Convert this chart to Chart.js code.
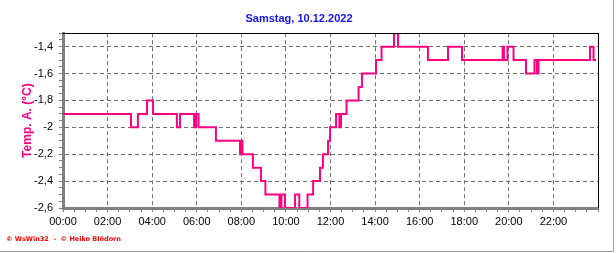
<!DOCTYPE html>
<html>
<head>
<meta charset="utf-8">
<title>Temp. A. - Samstag, 10.12.2022</title>
<script src="https://cdn.jsdelivr.net/npm/chart.js@4.4.1/dist/chart.umd.min.js"></script>
<style>
  html, body { margin: 0; padding: 0; background: #ffffff; }
  canvas { display: block; }
</style>
</head>
<body>
<canvas id="chart" width="616" height="253"></canvas>
<script>
// Outside temperature, 10.12.2022 - time (hours) at which the reading changes, and the new value
const changeHours = [
  0, 3.05, 3.36, 3.77, 4.04, 5.11, 5.25, 5.88, 5.97, 6.08,
  6.86, 7.94, 7.99, 8.05, 8.52, 8.88, 9.08, 9.71, 9.80, 9.96,
  10.41, 10.60, 10.97, 11.22, 11.53, 11.66, 11.89, 11.98, 12.25, 12.40,
  12.47, 12.72, 13.26, 13.41, 14.04, 14.29, 14.85, 15.03, 16.37, 17.27,
  17.90, 19.72, 19.78, 19.94, 20.21, 20.77, 21.15, 21.26, 21.33, 23.64,
  23.80, 23.91
];
const temps = [
  -1.9, -2.0, -1.9, -1.8, -1.9, -2.0, -1.9, -2.0, -1.9, -2.0,
  -2.1, -2.2, -2.1, -2.2, -2.3, -2.4, -2.5, -2.6, -2.5, -2.6,
  -2.5, -2.6, -2.5, -2.4, -2.3, -2.2, -2.1, -2.0, -1.9, -2.0,
  -1.9, -1.8, -1.7, -1.6, -1.5, -1.4, -1.3, -1.4, -1.5, -1.4,
  -1.5, -1.4, -1.5, -1.4, -1.5, -1.6, -1.5, -1.6, -1.5, -1.4,
  -1.5, -1.5
];

// Axis settings
const yMin = -2.6, yMax = -1.3, yMinorStep = 0.05, yMajorStep = 0.2;
const xMin = 0, xMax = 24, xMinorStep = 0.5, xMajorStep = 2;

const titleText = 'Samstag, 10.12.2022';
const yTitle = 'Temp. A. (°C)';
const footerText = '© WsWin32  -  © Heiko Blödorn';

const LINE_COLOR = '#ff0080';
const GRID_COLOR = '#707070';

const isMajorY = v => {
  const k = (v - yMin) / yMajorStep;
  return Math.abs(k - Math.round(k)) < 1e-6 && v < yMax - 0.01;
};
const isMajorX = v => Math.abs(v / xMajorStep - Math.round(v / xMajorStep)) < 1e-6;

// Draws the black top/right frame of the plot, the footer and the outer frame
const framePlugin = {
  id: 'frame',
  afterDatasetsDraw(chart) {
    const { ctx, chartArea: a } = chart;
    ctx.save();
    ctx.strokeStyle = '#000000';
    ctx.lineWidth = 1;
    ctx.beginPath();
    ctx.moveTo(a.left, Math.round(a.top) + 0.5);
    ctx.lineTo(Math.round(a.right) + 0.5, Math.round(a.top) + 0.5);
    ctx.lineTo(Math.round(a.right) + 0.5, a.bottom);
    ctx.stroke();
    ctx.restore();
  },
  afterDraw(chart) {
    const { ctx, width, height } = chart;
    ctx.save();
    ctx.fillStyle = '#ff0000';
    ctx.font = 'bold 6.5px "DejaVu Sans", sans-serif';
    ctx.textBaseline = 'middle';
    ctx.fillText(footerText, 6, 239);
    ctx.strokeStyle = '#a0a0a0';
    ctx.lineWidth = 1;
    ctx.beginPath();
    ctx.moveTo(width - 2.5, 0);
    ctx.lineTo(width - 2.5, height - 1.5);
    ctx.lineTo(0, height - 1.5);
    ctx.stroke();
    ctx.restore();
  }
};

new Chart(document.getElementById('chart'), {
  type: 'line',
  data: {
    datasets: [{
      label: yTitle,
      data: changeHours.map((h, i) => ({ x: h, y: temps[i] })),
      borderColor: LINE_COLOR,
      borderWidth: 2,
      pointRadius: 0,
      stepped: 'before',
      fill: false
    }]
  },
  options: {
    responsive: false,
    animation: false,
    devicePixelRatio: 1,
    layout: { padding: { left: 0, right: 18, top: 0, bottom: 0 } },
    plugins: {
      legend: { display: false },
      tooltip: { enabled: false },
      title: {
        display: true,
        text: titleText,
        color: '#1414f0',
        font: { family: 'Arial, "Liberation Sans", sans-serif', size: 11, weight: 'bold' },
        padding: { top: 12, bottom: 8 }
      }
    },
    scales: {
      x: {
        type: 'linear',
        min: xMin,
        max: xMax,
        afterFit: scale => { scale.height = 45; },
        ticks: {
          stepSize: xMinorStep,
          autoSkip: false,
          maxRotation: 0,
          minRotation: 0,
          padding: 3,
          color: '#000000',
          font: { family: 'Arial, "Liberation Sans", sans-serif', size: 11 },
          callback: v => (isMajorX(v) && v < xMax) ? String(v).padStart(2, '0') + ':00' : ''
        },
        grid: {
          color: c => (c.tick && isMajorX(c.tick.value)) ? GRID_COLOR : 'rgba(0,0,0,0)',
          tickColor: '#808080',
          tickLength: 4,
          lineWidth: 1
        },
        border: { display: true, color: '#808080', width: 3, dash: [4, 3] }
      },
      y: {
        type: 'linear',
        min: yMin,
        max: yMax,
        afterFit: scale => { scale.width = 63; },
        title: {
          display: true,
          text: yTitle,
          color: LINE_COLOR,
          font: { family: 'Arial, "Liberation Sans", sans-serif', size: 12, weight: 'bold' },
          padding: { top: 20, bottom: 0 }
        },
        ticks: {
          stepSize: yMinorStep,
          autoSkip: false,
          padding: 6,
          color: '#000000',
          font: { family: 'Arial, "Liberation Sans", sans-serif', size: 11 },
          callback: v => isMajorY(v) ? String(Math.round(v * 10) / 10).replace('.', ',') : ''
        },
        grid: {
          color: c => (c.tick && isMajorY(c.tick.value)) ? GRID_COLOR : 'rgba(0,0,0,0)',
          tickColor: '#808080',
          tickLength: 4,
          lineWidth: 1
        },
        border: { display: true, color: '#808080', width: 3, dash: [4, 3] }
      }
    }
  },
  plugins: [framePlugin]
});
</script>
</body>
</html>
